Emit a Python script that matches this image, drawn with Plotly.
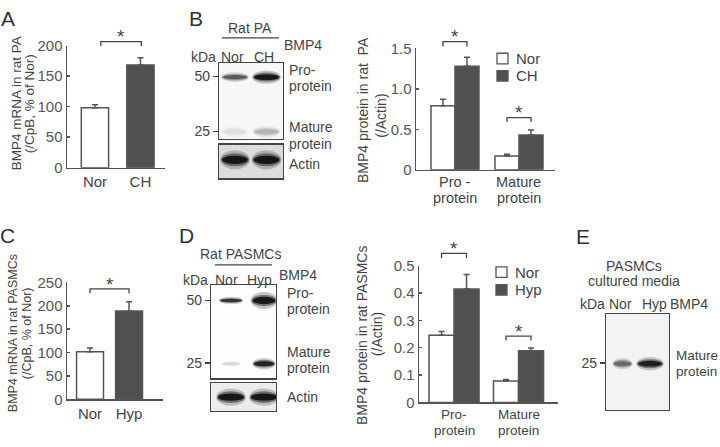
import numpy as np
import plotly.graph_objects as go

W, H = 720, 447

# ---------------- data ----------------
a_cats = ["Nor", "CH"]
a_vals = [98, 168]
a_err = [5, 12]

b_cats = [["Pro -", "protein"], ["Mature", "protein"]]
b_nor = [0.79, 0.17]
b_nor_err = [0.08, 0.02]
b_ch = [1.28, 0.43]
b_ch_err = [0.11, 0.06]

c_cats = ["Nor", "Hyp"]
c_vals = [102, 189]
c_err = [8, 20]

d_cats = [["Pro-", "protein"], ["Mature", "protein"]]
d_nor = [0.245, 0.078]
d_nor_err = [0.014, 0.006]
d_hyp = [0.414, 0.189]
d_hyp_err = [0.053, 0.010]

# western blots: band intensity (0..1) per lane, band size in kDa
kda_markers = [50, 25]
blot_b_lanes = ["Nor", "CH"]
blot_b_pro = [0.66, 0.92]
blot_b_mature = [0.13, 0.30]
blot_b_actin = [0.93, 0.93]
blot_d_lanes = ["Nor", "Hyp"]
blot_d_pro = [0.82, 0.92]
blot_d_mature = [0.16, 0.88]
blot_d_actin = [0.93, 0.93]
blot_e_lanes = ["Nor", "Hyp"]
blot_e_mature = [0.6, 0.9]
pro_kda = 49.5
mature_kda = 24.8

# ---------------- style ----------------
EDGE = "#555555"
DARK = "#505050"
TXT = "#444444"
FONT = "Liberation Sans, Arial, sans-serif"


def dom_x(l, r):
    return [l / W, r / W]


def dom_y(t, b):
    return [1 - b / H, 1 - t / H]


# pixel boxes (left, right, top, bottom) and ranges
AX = {
    "A": dict(px=(67, 165, 38, 165), xr=[-0.615, 1.54], yr=[0, 200]),
    "B": dict(px=(416, 555, 41, 167), xr=[-0.609, 1.5625], yr=[0, 1.5]),
    "C": dict(px=(67, 163, 284.3, 405.7), xr=[-0.59, 1.87], yr=[0, 250]),
    "D": dict(px=(419, 558, 266.7, 409), xr=[-0.543, 1.612], yr=[0, 0.5]),
    "Bb": dict(px=(219, 283, 56, 135), xr=[-0.508, 1.524], yr=[1.3557, 1.7729]),
    "Ba": dict(px=(219, 283, 141, 176), xr=[-0.508, 1.524], yr=[0, 1]),
    "Db": dict(px=(211, 276, 287, 384), xr=[-0.606, 1.364], yr=[1.3238, 1.7731]),
    "Da": dict(px=(211, 276, 389, 418), xr=[-0.606, 1.364], yr=[0, 1]),
    "Eb": dict(px=(606, 669, 317, 417), xr=[-0.6, 1.69], yr=[1.171, 1.634]),
}


def xpix(key, v):
    l, r, t, b = AX[key]["px"]
    r0, r1 = AX[key]["xr"]
    return l + (v - r0) / (r1 - r0) * (r - l)


def y_per_px(key):
    l, r, t, b = AX[key]["px"]
    r0, r1 = AX[key]["yr"]
    return (r1 - r0) / (b - t)


def x_per_px(key):
    l, r, t, b = AX[key]["px"]
    r0, r1 = AX[key]["xr"]
    return (r1 - r0) / (r - l)


fig = go.Figure()

err_style = dict(type="data", symmetric=False, color=EDGE, thickness=1.5, width=3)


def bar(x, y, err, width, offset, colors, xa, ya):
    return go.Bar(
        x=x, y=y, width=width, offset=offset,
        marker=dict(color=colors, line=dict(color=EDGE, width=1.5)),
        error_y=dict(array=err, arrayminus=[0] * len(err), **err_style),
        xaxis=xa, yaxis=ya, showlegend=False, hoverinfo="skip",
    )


# A
fig.add_trace(bar([0, 1], a_vals, a_err, 0.6, -0.3, ["white", DARK], "x", "y"))
# B
fig.add_trace(bar([0, 1], b_nor, b_nor_err, 0.375, -0.375, "white", "x2", "y2"))
fig.add_trace(bar([0, 1], b_ch, b_ch_err, 0.375, 0.0, DARK, "x2", "y2"))
# C
fig.add_trace(bar([0, 1], c_vals, c_err, 0.69, -0.345, ["white", DARK], "x3", "y3"))
# D
fig.add_trace(bar([0, 1], d_nor, d_nor_err, 0.388, -0.388, "white", "x4", "y4"))
fig.add_trace(bar([0, 1], d_hyp, d_hyp_err, 0.388, 0.0, DARK, "x4", "y4"))

# invisible traces to create blot subplots
for i, key in enumerate(["Bb", "Ba", "Db", "Da", "Eb"]):
    n = i + 5
    fig.add_trace(go.Scatter(x=[0, 1], y=[AX[key]["yr"][0]] * 2, mode="markers",
                             marker=dict(opacity=0), xaxis=f"x{n}", yaxis=f"y{n}",
                             showlegend=False, hoverinfo="skip"))

layout = dict(width=W, height=H, margin=dict(l=0, r=0, t=0, b=0),
              paper_bgcolor="white", plot_bgcolor="white", showlegend=False,
              font=dict(family=FONT, color=TXT), bargap=0)

bar_axes = [("A", "", a_cats, [0, 50, 100, 150, 200], ["0", "50", "100", "150", "200"]),
            ("B", "2", ["", ""], [0, 0.5, 1.0, 1.5], ["0", "0.5", "1.0", "1.5"]),
            ("C", "3", c_cats, [0, 50, 100, 150, 200, 250], ["0", "50", "100", "150", "200", "250"]),
            ("D", "4", ["", ""], [0, 0.1, 0.2, 0.3, 0.4, 0.5], ["0", "0.1", "0.2", "0.3", "0.4", "0.5"])]
for key, s, cats, tv, tt in bar_axes:
    l, r, t, b = AX[key]["px"]
    layout["xaxis" + s] = dict(domain=dom_x(l, r), range=AX[key]["xr"], anchor="y" + (s or ""),
                               showline=True, linecolor=EDGE, linewidth=1.5, ticks="",
                               tickvals=[0, 1], ticktext=cats, showgrid=False, zeroline=False,
                               tickfont=dict(size=15, color=TXT), fixedrange=True)
    layout["yaxis" + s] = dict(domain=dom_y(t, b), range=AX[key]["yr"], anchor="x" + (s or ""),
                               showline=True, linecolor=EDGE, linewidth=1.5, ticks="inside",
                               ticklen=3, tickwidth=1.5, tickcolor=EDGE, tickvals=tv, ticktext=tt,
                               showgrid=False, zeroline=False, tickfont=dict(size=15, color="#555"),
                               fixedrange=True)

blot_axes = [("Bb", 5, True), ("Ba", 6, False), ("Db", 7, True), ("Da", 8, False), ("Eb", 9, True)]
for key, n, kda in blot_axes:
    l, r, t, b = AX[key]["px"]
    layout[f"xaxis{n}"] = dict(domain=dom_x(l, r), range=AX[key]["xr"], anchor=f"y{n}",
                               showline=True, mirror=True, linecolor="#444", linewidth=1.2,
                               ticks="", showticklabels=False, showgrid=False, zeroline=False,
                               fixedrange=True)
    yax = dict(domain=dom_y(t, b), range=AX[key]["yr"], anchor=f"x{n}",
               showline=True, mirror=True, linecolor="#444", linewidth=1.2,
               showgrid=False, zeroline=False, fixedrange=True)
    if kda:
        mk = kda_markers if key != "Eb" else [25]
        yax.update(ticks="outside", ticklen=5, tickwidth=1.2, tickcolor="#444",
                   tickvals=[float(np.log10(m)) for m in mk], ticktext=[str(m) for m in mk],
                   tickfont=dict(size=14, color=TXT))
    else:
        yax.update(ticks="", showticklabels=False)
    layout[f"yaxis{n}"] = yax

shapes = []
ann = []

# blot backgrounds
for n, col in [(5, "#f7f7f7"), (6, "#dcdcdc"), (7, "#fdfdfd"), (8, "#ececec"), (9, "#f3f3f3")]:
    shapes.append(dict(type="rect", xref=f"x{n} domain", yref=f"y{n} domain", x0=0, x1=1, y0=0, y1=1,
                       fillcolor=col, line=dict(width=0), layer="below"))

# band styles: (width px, height px) per lane
BAND = {
    "Bpro": [(26, 5), (27, 7)],
    "Bmat": [(24, 6), (26, 6)],
    "Bact": [(28, 10), (28, 10)],
    "Dpro": [(23, 4), (25, 9)],
    "Dmat": [(19, 3), (22, 6)],
    "Dact": [(28, 9), (28, 9)],
    "Emat": [(19, 6), (26, 7)],
}


def band(key, n, lane, yval, intensity, size):
    wpx, hpx = size
    g = int(255 * (1 - intensity))
    w = wpx * x_per_px(key)
    h = hpx * y_per_px(key)
    for sw, sh, op in [(1.06, 2.0, 0.22), (1.0, 1.35, 0.45), (0.92, 0.85, 0.95)]:
        shapes.append(dict(type="circle", xref=f"x{n}", yref=f"y{n}",
                           x0=lane - w * sw / 2, x1=lane + w * sw / 2,
                           y0=yval - h * sh / 2, y1=yval + h * sh / 2,
                           fillcolor=f"rgba({g},{g},{g},{op})", line=dict(width=0)))


for i in range(2):
    band("Bb", 5, i, np.log10(pro_kda), blot_b_pro[i], BAND["Bpro"][i])
    band("Bb", 5, i, np.log10(mature_kda), blot_b_mature[i], BAND["Bmat"][i])
    band("Ba", 6, i, 0.55, blot_b_actin[i], BAND["Bact"][i])
    band("Db", 7, i, np.log10(pro_kda + 0.5), blot_d_pro[i], BAND["Dpro"][i])
    band("Db", 7, i, np.log10(mature_kda), blot_d_mature[i], BAND["Dmat"][i])
    band("Da", 8, i, 0.5, blot_d_actin[i], BAND["Dact"][i])
    band("Eb", 9, i, np.log10(mature_kda), blot_e_mature[i], BAND["Emat"][i])


def txt(x, y, s, size=14, xanchor="center", angle=0, color=TXT):
    ann.append(dict(x=x / W, y=1 - y / H, xref="paper", yref="paper", text=s, showarrow=False,
                    font=dict(size=size, color=color, family=FONT), xanchor=xanchor,
                    yanchor="middle", textangle=angle, borderpad=0))


def line(x0, y0, x1, y1, w=1.3):
    shapes.append(dict(type="line", xref="paper", yref="paper", x0=x0 / W, x1=x1 / W,
                       y0=1 - y0 / H, y1=1 - y1 / H, line=dict(color="#444", width=w)))


def bracket(key, v0, v1, ytop, leg=4.5):
    x0, x1 = xpix(key, v0), xpix(key, v1)
    shapes.append(dict(type="path", xref="paper", yref="paper",
                       path=f"M {x0 / W},{1 - (ytop + leg) / H} L {x0 / W},{1 - ytop / H} "
                            f"L {x1 / W},{1 - ytop / H} L {x1 / W},{1 - (ytop + leg) / H}",
                       line=dict(color="#444", width=1.3)))
    txt((x0 + x1) / 2, ytop - 5, "*", size=19)


# significance brackets
bracket("A", 0.13, 1.02, 34)
bracket("B", -0.1875, 0.1875, 34, 5)
bracket("B", 0.8125, 1.1875, 113, 4.5)
bracket("C", 0.0, 1.0, 291)
bracket("D", -0.194, 0.194, 254, 5)
bracket("D", 0.806, 1.194, 340, 4.5)

# two-line category labels for B and D
for i, (l1, l2) in enumerate(b_cats):
    txt(xpix("B", i), 180, l1, 14.5)
    txt(xpix("B", i), 196, l2, 14.5)
for i, (l1, l2) in enumerate(d_cats):
    txt(xpix("D", i), 422, l1, 13.5)
    txt(xpix("D", i), 438, l2, 13.5)

# panel letters
for x, y, s in [(8, 10, "A"), (196, 10, "B"), (7, 235, "C"), (186, 235, "D"), (583, 236, "E")]:
    txt(x, y, s, size=21, color="#333")

# y titles
txt(16, 98, "BMP4 mRNA in rat PA", 13.5, angle=-90)
txt(29, 99, "(/CpB, % of Nor)", 13.5, angle=-90)
txt(363, 105, "BMP4 protein in rat  PA", 14, angle=-90)
txt(381, 111, "(/Actin)", 14, angle=-90)
txt(13, 337, "BMP4 mRNA in rat PASMCs", 12.5, angle=-90)
txt(27, 337, "(/CpB, % of Nor)", 12.5, angle=-90)
txt(362, 340, "BMP4 protein in rat PASMCs", 14, angle=-90)
txt(377, 338, "(/Actin)", 14, angle=-90)

# legends
for (lx, ly, lab, col) in [(497, 51.5, "Nor", "white"), (497, 69.5, "CH", DARK),
                           (496, 273.5, "Nor", "white"), (496, 292, "Hyp", DARK)]:
    shapes.append(dict(type="rect", xref="paper", yref="paper", x0=lx / W, x1=(lx + 11) / W,
                       y0=1 - (ly + 5.5) / H, y1=1 - (ly - 5.5) / H, fillcolor=col,
                       line=dict(color=EDGE, width=1.3)))
    txt(lx + 18, ly, lab, 15, xanchor="left")

# blot B labels
txt(250, 20, "Rat PA", 14)
line(222, 30, 279, 30)
txt(303, 37, "BMP4", 14)
txt(203, 50, "kDa", 14)
txt(232, 50, blot_b_lanes[0], 14)
txt(264, 50, blot_b_lanes[1], 14)
txt(288, 63, "Pro-", 14, xanchor="left")
txt(288, 80, "protein", 14, xanchor="left")
txt(288, 123, "Mature", 14, xanchor="left")
txt(288, 140, "protein", 14, xanchor="left")
txt(288, 161, "Actin", 14, xanchor="left")

# blot D labels
txt(240, 255, "Rat PASMCs", 14)
line(215, 266, 272, 266)
txt(298, 277, "BMP4", 14)
txt(195, 282, "kDa", 14)
txt(226, 282, blot_d_lanes[0], 14)
txt(259, 282, blot_d_lanes[1], 14)
txt(286, 295, "Pro-", 14, xanchor="left")
txt(286, 312, "protein", 14, xanchor="left")
txt(286, 357, "Mature", 14, xanchor="left")
txt(286, 373, "protein", 14, xanchor="left")
txt(286, 403, "Actin", 14, xanchor="left")

# blot E labels
txt(634, 267, "PASMCs", 14)
txt(634, 283, "cultured media", 14)
txt(592, 307, "kDa", 14)
txt(620, 307, blot_e_lanes[0], 14)
txt(654, 307, blot_e_lanes[1], 14)
txt(689, 307, "BMP4", 14)
txt(675, 360, "Mature", 13.5, xanchor="left")
txt(675, 377, "protein", 13.5, xanchor="left")

layout["shapes"] = shapes
layout["annotations"] = ann
fig.update_layout(**layout)
fig.write_html("out.html", config={"displayModeBar": False, "staticPlot": True},
               post_script="document.body.style.margin='0';document.body.style.padding='0';")
